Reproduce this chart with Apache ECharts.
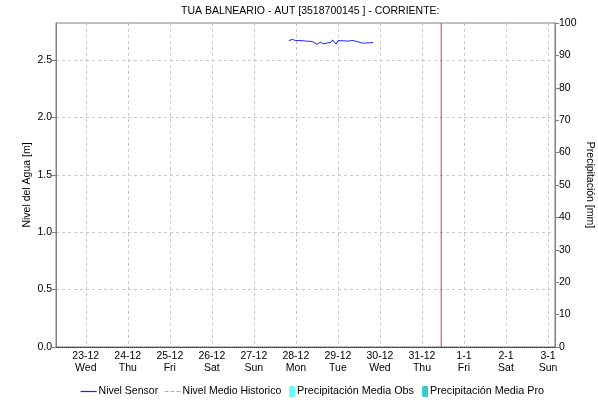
<!DOCTYPE html>
<html>
<head>
<meta charset="utf-8">
<script src="https://cdn.jsdelivr.net/npm/echarts@6/dist/echarts.min.js"></script>
<style>
  html, body { margin: 0; padding: 0; background: #fff; }
  #chart { width: 598px; height: 403px; }
</style>
</head>
<body>
<div id="chart"></div>
<script>
// 数据
const sensorStart = new Date(2020, 11, 27, 20, 0).getTime()
const hour = 3600000
const day = 86400000
const sensorLevel = [
  2.668, 2.672, 2.680, 2.672, 2.668, 2.666, 2.670, 2.670, 2.667, 2.666,
  2.664, 2.663, 2.663, 2.660, 2.656, 2.650, 2.637, 2.645, 2.655, 2.648,
  2.640, 2.655, 2.648, 2.660, 2.654, 2.675, 2.660, 2.638, 2.668, 2.675,
  2.668, 2.670, 2.666, 2.668, 2.664, 2.667, 2.670, 2.666, 2.664, 2.660,
  2.656, 2.650, 2.646, 2.652, 2.648, 2.658, 2.650, 2.645, 2.652
]
const historicLevel = []
const precipObs = []
const precipPro = []

const dayLabels = ['23-12', '24-12', '25-12', '26-12', '27-12', '28-12', '29-12', '30-12', '31-12', '1-1', '2-1', '3-1']
const weekDays = ['Wed', 'Thu', 'Fri', 'Sat', 'Sun', 'Mon', 'Tue', 'Wed', 'Thu', 'Fri', 'Sat', 'Sun']
const levelTicks = [0, 0.5, 1.0, 1.5, 2.0, 2.5]
const levelMax = 2.822

// 时间轴用数值轴表示（毫秒）
const firstDay = new Date(2020, 11, 23).getTime()
const dayTicks = dayLabels.map((_, i) => firstDay + i * day)
const axisMin = new Date(2020, 11, 22, 7, 0).getTime()
const axisMax = new Date(2021, 0, 3, 4, 0).getTime()
const nowTime = new Date(2020, 11, 31, 11, 0).getTime()

const sensorData = sensorLevel.map((v, i) => [sensorStart + i * hour, v])
// 当前时刻竖线（从 0 到轴顶）
const nowData = [[nowTime, 0], [nowTime, levelMax]]

const font = 'Liberation Sans, Arial, sans-serif'
const blue = '#1f1fff'
const gray = '#b0b0b0'
const chart = echarts.init(document.getElementById('chart'))

// 图例里折线只画线，符号透明
const hideSymbol = { color: 'transparent', borderColor: 'transparent', borderWidth: 0 }

chart.setOption({
  animation: false,
  backgroundColor: '#fff',
  textStyle: { fontFamily: font, fontSize: 11, color: '#000' },
  title: {
    text: 'TUA BALNEARIO - AUT [3518700145 ] - CORRIENTE:',
    left: 181,
    top: 6,
    padding: 0,
    textStyle: { fontFamily: font, fontSize: 10.5, fontWeight: 'normal', color: '#000' }
  },
  legend: [
    {
      left: 80,
      top: 386,
      padding: 0,
      itemWidth: 16,
      itemHeight: 11,
      itemGap: 6,
      data: [
        { name: 'Nivel Sensor', itemStyle: hideSymbol, lineStyle: { width: 1.2, color: blue, type: 'solid' } },
        { name: 'Nivel Medio Historico', itemStyle: hideSymbol, lineStyle: { width: 1, color: gray, type: 'dashed' } }
      ],
      textStyle: { fontFamily: font, fontSize: 10.5, color: '#000', padding: [0, 0, 0, -3] }
    },
    {
      left: 289,
      top: 386,
      padding: 0,
      itemWidth: 6,
      itemHeight: 11,
      itemGap: 8,
      data: ['Precipitación Media Obs', 'Precipitación Media Pro'],
      textStyle: { fontFamily: font, fontSize: 10.8, color: '#000', padding: [0, 0, 0, -3] }
    }
  ],
  grid: {
    left: 56,
    right: 43,
    top: 23,
    bottom: 56,
    outerBoundsMode: 'none',
    show: true,
    borderColor: '#808080',
    borderWidth: 1,
    backgroundColor: '#fff'
  },
  xAxis: {
    type: 'value',
    min: axisMin,
    max: axisMax,
    axisLine: { lineStyle: { color: '#333', type: 'dotted' } },
    axisTick: { show: false, customValues: dayTicks },
    axisLabel: {
      customValues: dayTicks,
      margin: 3,
      fontFamily: font,
      fontSize: 10.5,
      color: '#000',
      lineHeight: 12,
      formatter: (v) => {
        const i = Math.round((v - firstDay) / day)
        return dayLabels[i] + '\n' + weekDays[i]
      }
    },
    splitLine: { show: true, lineStyle: { color: '#c8c8c8', type: [3, 3] } }
  },
  yAxis: [
    {
      type: 'value',
      min: 0,
      max: levelMax,
      name: 'Nivel del Agua [m]',
      nameLocation: 'middle',
      nameGap: 23,
      nameMoveOverlap: false,
      nameTextStyle: { fontFamily: font, fontSize: 10.5, color: '#000' },
      axisLine: { show: true, lineStyle: { color: '#808080' } },
      axisTick: { show: true, length: 4, customValues: levelTicks, lineStyle: { color: '#808080' } },
      axisLabel: {
        customValues: levelTicks,
        margin: 4,
        fontFamily: font,
        fontSize: 10.5,
        color: '#000',
        formatter: (v) => v.toFixed(1)
      },
      splitLine: { show: true, lineStyle: { color: '#c8c8c8', type: [3, 3] } }
    },
    {
      type: 'value',
      min: 0,
      max: 100,
      interval: 10,
      position: 'right',
      name: 'Precipitación [mm]',
      nameLocation: 'middle',
      nameGap: 29,
      nameMoveOverlap: false,
      nameRotate: -90,
      nameTextStyle: { fontFamily: font, fontSize: 10.5, color: '#000' },
      axisLine: { show: true, lineStyle: { color: '#808080' } },
      axisTick: { show: true, length: 4, lineStyle: { color: '#808080' } },
      axisLabel: { margin: 4, fontFamily: font, fontSize: 10.5, color: '#000' },
      splitLine: { show: false }
    }
  ],
  series: [
    {
      name: 'Nivel Sensor',
      type: 'line',
      data: sensorData,
      symbol: 'none',
      lineStyle: { color: blue, width: 1 },
      itemStyle: { color: blue }
    },
    {
      name: 'Nivel Medio Historico',
      type: 'line',
      data: historicLevel,
      symbol: 'none',
      lineStyle: { color: gray, width: 1, type: 'dashed' },
      itemStyle: { color: gray }
    },
    {
      name: 'Precipitación Media Obs',
      type: 'bar',
      yAxisIndex: 1,
      data: precipObs,
      itemStyle: { color: '#66ffff' }
    },
    {
      name: 'Precipitación Media Pro',
      type: 'bar',
      yAxisIndex: 1,
      data: precipPro,
      itemStyle: { color: '#33cccc' }
    },
    {
      name: 'ahora',
      type: 'line',
      data: nowData,
      symbol: 'none',
      silent: true,
      lineStyle: { color: '#e03c3c', width: 1 },
      itemStyle: { color: '#e03c3c' }
    }
  ]
})
</script>
</body>
</html>
